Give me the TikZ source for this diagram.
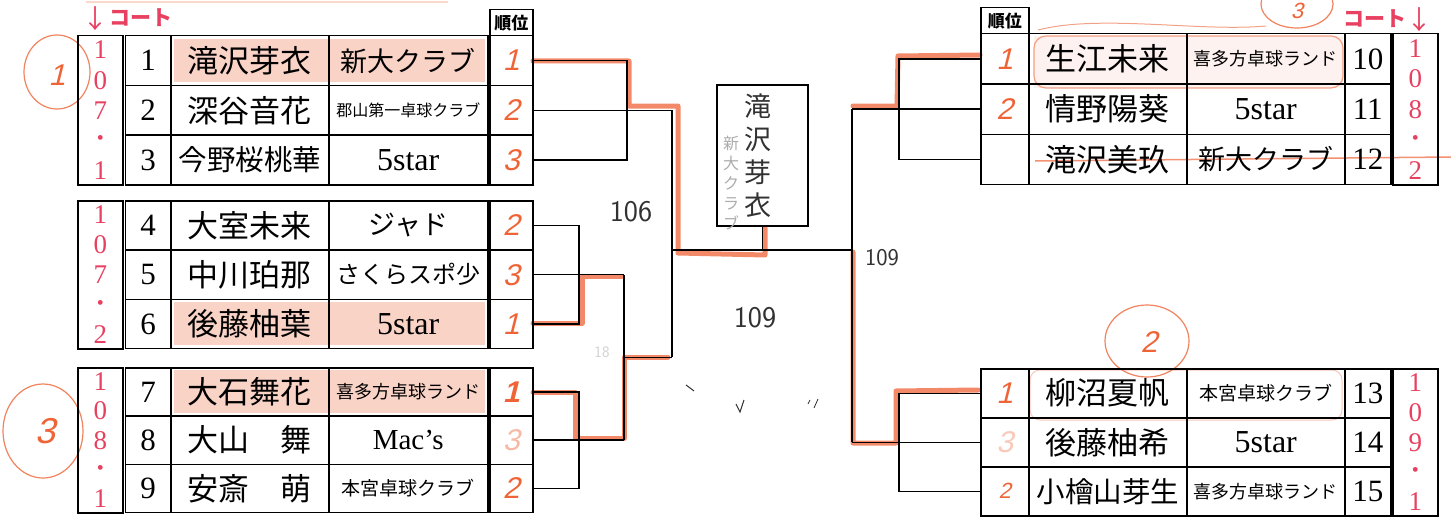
\documentclass[tikz,border=0pt]{standalone}
\usepackage{fontspec}
\setmainfont{Liberation Serif}
\newfontfamily\jp{Noto Sans CJK JP}
\newfontfamily\handf{Liberation Sans}[FakeSlant=0.25]
\usetikzlibrary{calc}
\definecolor{courtred}{RGB}{232,64,96}
\definecolor{hl}{RGB}{238,100,55}
\definecolor{pencil}{RGB}{50,50,50}
\tikzset{
  cell/.style={draw=black, line width=1.5pt, inner sep=0pt, anchor=north west},
  brk/.style={draw=black, line width=1.5pt},
  hlpath/.style={draw=hl, line width=5pt, opacity=0.75, line join=round, line cap=round},
  hatch/.style={fill=hl, fill opacity=0.28, draw=none},
  crt/.style={text=courtred, font=\fontsize{27}{27}\selectfont, inner sep=0pt},
  rankh/.style={text=hl, font=\handf\fontsize{30}{30}\selectfont, inner sep=0pt},
  hw/.style={font=\sffamily\fontsize{30}{30}\selectfont, text=pencil, inner sep=0pt},
  ring/.style={draw=hl, line width=1.2pt, opacity=0.8},
  headcell/.style={cell, minimum height=26pt, font=\jp\bfseries\fontsize{17}{17}\selectfont},
  courtlbl/.style={text=courtred, font=\jp\bfseries\fontsize{21}{21}\selectfont, inner sep=0pt},
  courtarrow/.style={text=courtred, font=\jp\fontsize{26}{26}\selectfont, inner sep=0pt},
}
\newcommand\NM[1]{{\jp\fontsize{31}{31}\selectfont #1}}
\newcommand\NMs[1]{{\jp\fontsize{28.5}{28.5}\selectfont #1}}
\newcommand\CL[2]{{\jp\fontsize{#1}{#1}\selectfont #2}}
\newcommand\Latn[2]{{\fontsize{#1}{#1}\selectfont #2}}
\newcommand\Bul{{\fontsize{20}{20}\selectfont\textbullet}}
% left row: #1 prefix, #2 ytop, #3 height, #4 number, #5 name, #6 club, #7 rank
\newcommand\LRow[7]{%
  \node[cell, minimum width=45.5pt, minimum height=#3pt, font=\fontsize{31}{31}\selectfont] (#1n) at (124.5,#2) {#4};
  \node[cell, minimum width=158pt, minimum height=#3pt] (#1a) at (170,#2) {#5};
  \node[cell, minimum width=159pt, minimum height=#3pt] (#1c) at (328,#2) {#6};
  \node[cell, minimum width=43pt, minimum height=#3pt] (#1r) at (489,#2) {};
  \node[rankh] (#1h) at (#1r.center) {#7};}
% right row
\newcommand\RRow[7]{%
  \node[cell, minimum width=48pt, minimum height=#3pt] (#1r) at (980,#2) {};
  \node[cell, minimum width=158pt, minimum height=#3pt] (#1a) at (1028,#2) {#5};
  \node[cell, minimum width=158pt, minimum height=#3pt] (#1c) at (1186,#2) {#6};
  \node[cell, minimum width=46pt, minimum height=#3pt, font=\fontsize{31}{31}\selectfont] (#1n) at (1344,#2) {#4};
  \node[rankh] (#1h) at (#1r.center) {#7};}
\newcommand\Court[2]{%
  \foreach \d [count=\i] in {#2} {\pgfmathsetmacro\fr{(\i-0.5)/5}\node[crt] at ($(#1.north)!\fr!(#1.south)$) {\d};}}
\begin{document}
\begin{tikzpicture}[x=1pt,y=-1pt]
\useasboundingbox (0,0) rectangle (1451,519);
\fill[white] (0,0) rectangle (1451,519);

% ---- marker hatching on winners
\fill[hatch] (174,39) rectangle (485,82);
\fill[hatch] (174,302) rectangle (485,345);
\fill[hatch] (174,370) rectangle (485,413);
\draw[hl, line width=1.2pt, opacity=.6, rounded corners=12pt] (1034,36) rectangle (1343,88);
\fill[hl, opacity=.08] (1034,36) rectangle (1343,88);
\draw[hl, line width=1pt, opacity=.35, rounded corners=10pt] (1030,370) rectangle (1342,420);
\draw[hl, opacity=.6, line width=1pt] (1266,26) .. controls (1200,32) and (1100,14) .. (1038,30);
\draw[hl, opacity=.7, line width=1.5pt] (1035,161) -- (1451,157);
\draw[hl, opacity=.25, line width=1.5pt] (86,2) -- (448,2);

% ---- marker on bracket paths
\draw[hlpath] (533,61) -- (629,61) -- (629,106) -- (678,106) -- (678,253) -- (765,255) -- (765,228);
\draw[hlpath] (533,323) -- (582,323) -- (582,276) -- (622,276);
\draw[hlpath] (533,392) -- (575,392) -- (575,438) -- (624,438) -- (624,357) -- (668,357);
\draw[hlpath] (980,55) -- (898,56) -- (897,106) -- (853,106);
\draw[hlpath] (853,252) -- (853,443) -- (896,443) -- (896,391) -- (978,390);

% ---- rings
\draw[ring] (57,72) ellipse [x radius=33, y radius=37];
\node[rankh] (ring1t) at (57,75) {1};
\draw[ring] (43,431) ellipse [x radius=40, y radius=47];
\node[rankh, font=\handf\fontsize{36}{36}\selectfont] (ring3t) at (45,431) {3};
\draw[ring] (1147,341) ellipse [x radius=42, y radius=36];
\node[rankh] (ring2t) at (1149,342) {2};
\draw[ring] (1297,4) ellipse [x radius=36, y radius=24];
\node[rankh, font=\handf\fontsize{22}{22}\selectfont] (ring3rt) at (1297,11) {3};

% ---- left top group
\node[headcell, minimum width=43pt] (LThead) at (489,9) {順位};
\node[courtarrow] (LTarrow) at (95,19) {↓};
\node[courtlbl] (LTcl) at (141,18) {コート};
\node[cell, minimum width=45pt, minimum height=149.1pt] (LTct) at (77,35) {};
\Court{LTct}{1,0,7,\Bul,1}
\LRow{LT1}{35}{49.7}{1}{\NM{滝沢芽衣}}{\CL{27}{新大クラブ}}{1}
\LRow{LT2}{84.7}{49.7}{2}{\NM{深谷音花}}{\CL{16}{郡山第一卓球クラブ}}{2}
\LRow{LT3}{134.4}{49.7}{3}{\NMs{今野桜桃華}}{\Latn{32}{5star}}{3}

% ---- left middle group
\node[cell, minimum width=45pt, minimum height=148pt] (LMct) at (77,200) {};
\Court{LMct}{1,0,7,\Bul,2}
\LRow{LM1}{200}{49.3}{4}{\NM{大室未来}}{\CL{27}{ジャド}}{2}
\LRow{LM2}{249.3}{49.3}{5}{\NM{中川珀那}}{\CL{24}{さくらスポ少}}{3}
\LRow{LM3}{298.6}{49.3}{6}{\NM{後藤柚葉}}{\Latn{32}{5star}}{1}

% ---- left bottom group
\node[cell, minimum width=45pt, minimum height=145pt] (LBct) at (77,367) {};
\Court{LBct}{1,0,8,\Bul,1}
\LRow{LB1}{367}{48.3}{7}{\NM{大石舞花}}{\CL{18}{喜多方卓球ランド}}{{\bfseries 1}}
\LRow{LB2}{415.3}{48.3}{8}{\NM{大山　舞}}{\Latn{29}{Mac’s}}{{\color{hl!45}3}}
\LRow{LB3}{463.6}{48.3}{9}{\NM{安斎　萌}}{\CL{19}{本宮卓球クラブ}}{2}

% ---- right top group
\node[headcell, minimum width=48pt] (RThead) at (980,7) {順位};
\node[courtlbl] (RTcl) at (1375,19) {コート};
\node[courtarrow] (RTarrow) at (1419,20) {↓};
\node[cell, minimum width=45pt, minimum height=151pt] (RTct) at (1392,33) {};
\Court{RTct}{1,0,8,\Bul,2}
\RRow{RT1}{33}{50.3}{10}{\NM{生江未来}}{\CL{18}{喜多方卓球ランド}}{1}
\RRow{RT2}{83.3}{50.3}{11}{\NM{情野陽葵}}{\Latn{32}{5star}}{2}
\RRow{RT3}{133.6}{50.3}{12}{\NM{滝沢美玖}}{\CL{27}{新大クラブ}}{}

% ---- right bottom group
\node[cell, minimum width=45pt, minimum height=147pt] (RBct) at (1392,368) {};
\Court{RBct}{1,0,9,\Bul,1}
\RRow{RB1}{368}{49}{13}{\NM{柳沼夏帆}}{\CL{19}{本宮卓球クラブ}}{1}
\RRow{RB2}{417}{49}{14}{\NM{後藤柚希}}{\Latn{32}{5star}}{{\color{hl!35}3}}
\RRow{RB3}{466}{49}{15}{\NMs{小檜山芽生}}{\CL{18}{喜多方卓球ランド}}{{\fontsize{22}{22}\selectfont 2}}

% ---- champion box
\node[cell, minimum width=91pt, minimum height=141pt] (champ) at (716,84) {};
\node[font=\jp\fontsize{16}{20}\selectfont, text=gray!65, align=center, inner sep=0pt] (champclub) at (731,183) {新\\大\\ク\\ラ\\ブ};
\node[font=\jp\fontsize{27}{33}\selectfont, text=pencil, align=center, inner sep=0pt] (champname) at (758,156) {滝\\沢\\芽\\衣};

% ---- bracket junction coordinates
\coordinate (xA) at (627,0);
\coordinate (xB) at (579,0);
\coordinate (xC) at (624,0);
\coordinate (xF) at (672,0);
\coordinate (xR) at (852,0);
\coordinate (xD) at (899,0);
\coordinate (cy) at (0,250);

% left top
\draw[brk] (LT1r.east) -- (LT1r.east -| xA) -- (LT3r.east -| xA) -- (LT3r.east);
\draw[brk] (LT2r.east) -- (LT2r.east -| xF);
% left middle
\draw[brk] (LM1r.east) -- (LM1r.east -| xB) -- (LM3r.east -| xB) -- (LM3r.east);
\draw[brk] (LM2r.east) -- (LM2r.east -| xC);
% left bottom
\draw[brk] (LB1r.east) -- (LB1r.east -| xB) -- (LB3r.east -| xB) -- (LB3r.east);
\draw[brk] (LB2r.east) -- (LB2r.east -| xC);
\draw[brk] (LM2r.east -| xC) -- (LB2r.east -| xC);
\coordinate (jL) at ($(LM2r.east -| xC)!0.5!(LB2r.east -| xC)$);
\draw[brk] (jL) -- (jL -| xF);
\draw[brk] (LT2r.east -| xF) -- (jL -| xF);
% centre
\draw[brk] (xF |- cy) -- (xR |- cy);
\draw[brk] (champ.south) -- (champ.south |- cy);
% right
\draw[brk] (RT1r.west) -- (RT1r.west -| xD) -- (RT3r.west -| xD) -- (RT3r.west);
\draw[brk] (RT2r.west) -- (RT2r.west -| xR);
\draw[brk] (RB1r.west) -- (RB1r.west -| xD) -- (RB3r.west -| xD) -- (RB3r.west);
\draw[brk] (RB2r.west) -- (RB2r.west -| xR);
\draw[brk] (RT2r.west -| xR) -- (RB2r.west -| xR);

% ---- handwritten notes
\node[hw] (l106) at (631,212) {106};
\node[hw] (l109a) at (755,318) {109};
\node[hw, font=\sffamily\fontsize{24}{24}\selectfont] (l109b) at (882,258) {109};
\node[text=gray!35, font=\sffamily\fontsize{16}{16}\selectfont, inner sep=0pt] (l18) at (602,352) {18};
\draw[pencil, line width=1pt] (686,385) -- (694,391);
\draw[pencil, line width=1pt] (736,404) -- (740,412) -- (744,400);
\draw[pencil, line width=.8pt] (808,404) -- (810,400) (814,408) -- (818,399);
\end{tikzpicture}
\end{document}
